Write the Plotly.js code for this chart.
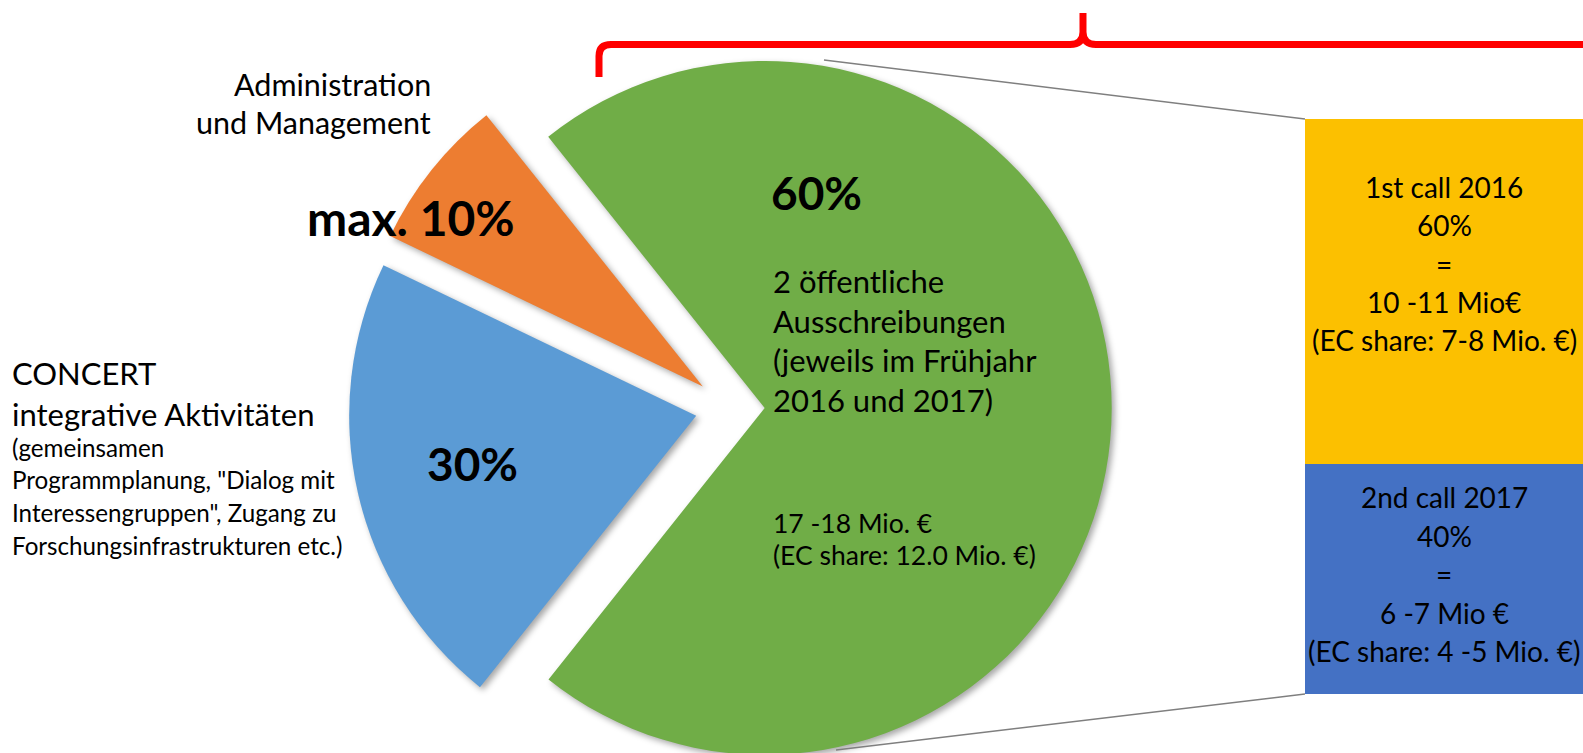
<!DOCTYPE html>
<html><head><meta charset="utf-8">
<script src="https://cdn.plot.ly/plotly-3.0.1.min.js"></script>
<style>
html,body{margin:0;padding:0;background:#fff;overflow:hidden;}
#wrap{width:1583px;height:753px;overflow:hidden;position:relative;}
#chart{width:1583px;height:800px;}
.pielayer .slice path.surface{filter:drop-shadow(3px 3px 3px rgba(0,0,0,0.35));}
</style></head><body><div id="wrap"><div id="chart"></div></div>
<script>
// ---------------- data ----------------
const barCategories = ['1st call 2016', '2nd call 2017'];
const barShares = [60, 40];                       // share of the public calls (%)
const pieLabels = ['2 öffentliche Ausschreibungen', 'CONCERT integrative Aktivitäten', 'Administration und Management'];
const concertShare = 30;
const adminShare = 10;
const pieValues = [barShares[0] + barShares[1], concertShare, adminShare];

const adminLabel = ['Administration', 'und Management'];
const adminPct = 'max. 10%';
const concertTitle = ['CONCERT', 'integrative Aktivitäten'];
const concertNote = ['(gemeinsamen', 'Programmplanung, "Dialog mit', 'Interessengruppen", Zugang zu', 'Forschungsinfrastrukturen etc.)'];
const concertPct = '30%';
const callsPct = '60%';
const callsText = ['2 öffentliche', 'Ausschreibungen', '(jeweils im Frühjahr', '2016 und 2017)'];
const callsMoney = ['17 -18 Mio. €', '(EC share: 12.0 Mio. €)'];
const call1Text = ['1st call 2016', '60%', '=', '10 -11 Mio€', '(EC share: 7-8 Mio. €)'];
const call2Text = ['2nd call 2017', '40%', '=', '6 -7 Mio €', '(EC share: 4 -5 Mio. €)'];

// ---------------- styling / geometry ----------------
const W = 1583, H = 800;
const FONT = 'Lato, "Open Sans", sans-serif';
const R = 347, PULL = 0.1, CX = 730, CY = 408;
const side = 2 * R * (1 + PULL);
const BAR_L = 1305, BAR_T = 119, BAR_B = 694;
const pieColors = ['#70ad47', '#5b9bd5', '#ed7d31'];
const barColors = ['#fcc000', '#4471c4'];

const px = x => x / W, py = y => 1 - y / H;

const traces = [
  {
    type: 'pie', values: pieValues, labels: pieLabels, sort: false,
    direction: 'clockwise', rotation: -38.6, pull: [PULL, PULL, PULL],
    marker: {colors: pieColors, line: {width: 0}},
    textinfo: 'none', hoverinfo: 'label+percent',
    domain: {x: [px(CX - side / 2), px(CX + side / 2)], y: [py(CY + side / 2), py(CY - side / 2)]}
  },
  {type: 'bar', x: [0], y: [barShares[1]], name: barCategories[1], marker: {color: barColors[1], line: {width: 0}}, hoverinfo: 'name+y'},
  {type: 'bar', x: [0], y: [barShares[0]], name: barCategories[0], marker: {color: barColors[0], line: {width: 0}}, hoverinfo: 'name+y'}
];

function block(arr, x, y0, dy, size, anchor, bold, xref) {
  return arr.map((t, i) => ({
    text: bold ? '<b>' + t + '</b>' : t,
    x: xref === 'x' ? x : px(x), xref: xref || 'paper',
    y: py(y0 + i * dy), yref: 'paper',
    xanchor: anchor, yanchor: 'middle', showarrow: false,
    font: {family: FONT, size: size, color: '#000'}
  }));
}

const annotations = [].concat(
  block(adminLabel, 433, 84, 38, 30.5, 'right'),
  block([adminPct], 411, 217, 0, 48, 'center', true),
  block(concertTitle, 10, 373, 41, 31, 'left'),
  block(concertNote, 10, 447, 32.7, 24.2, 'left'),
  block([concertPct], 472, 464, 0, 46, 'center', true),
  block([callsPct], 817, 192, 0, 46, 'center', true),
  block(callsText, 771, 281, 39.5, 31, 'left'),
  block(callsMoney, 771, 523, 32, 26.5, 'left'),
  block(call1Text, 0, 187, 38.3, 28, 'center', false, 'x'),
  block(call2Text, 0, 497, 38.5, 28, 'center', false, 'x')
);

const P = (x, y) => px(x).toFixed(5) + ',' + py(y).toFixed(5);
const bracePath = 'M' + P(599, 77) + ' L' + P(599, 56) + ' Q' + P(599, 44.5) + ' ' + P(611, 44.5) +
  ' L' + P(1070, 44.5) + ' Q' + P(1083, 44.5) + ' ' + P(1083, 32) + ' L' + P(1083, 13) +
  ' M' + P(1083, 32) + ' Q' + P(1083, 44.5) + ' ' + P(1096, 44.5) + ' L' + P(1600, 44.5);

const shapes = [
  {type: 'line', xref: 'paper', yref: 'paper', x0: px(824), y0: py(60), x1: px(BAR_L), y1: py(BAR_T), line: {color: '#7f7f7f', width: 1.5}},
  {type: 'line', xref: 'paper', yref: 'paper', x0: px(836), y0: py(750), x1: px(BAR_L), y1: py(BAR_B), line: {color: '#7f7f7f', width: 1.5}},
  {type: 'path', xref: 'paper', yref: 'paper', path: bracePath, line: {color: '#ff0000', width: 7}}
];

const layout = {
  width: W, height: H, margin: {l: 0, r: 0, t: 0, b: 0},
  paper_bgcolor: '#fff', plot_bgcolor: 'rgba(0,0,0,0)', showlegend: false,
  barmode: 'stack', bargap: 0,
  xaxis: {domain: [px(BAR_L), 1], range: [-0.5, 0.5], visible: false, fixedrange: true},
  yaxis: {domain: [py(BAR_B), py(BAR_T)], range: [0, 100], visible: false, fixedrange: true},
  annotations: annotations, shapes: shapes,
  font: {family: FONT}
};

Plotly.newPlot('chart', traces, layout, {displayModeBar: false, staticPlot: true});
</script></body></html>
